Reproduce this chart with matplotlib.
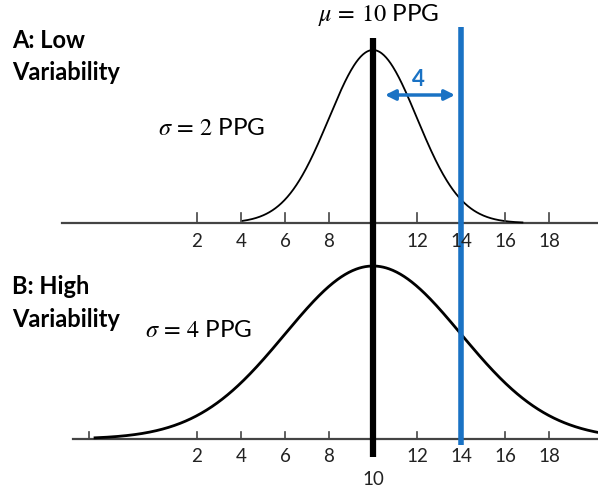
import numpy as np
import matplotlib.pyplot as plt

plt.rcParams['font.family'] = ['Lato', 'DejaVu Sans']
plt.rcParams['mathtext.fontset'] = 'stix'

# data
mu = 10
sigma_low = 2
sigma_high = 4
shift = 4   # blue line sits at mu + shift
ticks_top = [2, 4, 6, 8, 12, 14, 16, 18]
ticks_bottom = [2, 4, 6, 8, 12, 14, 16, 18]
extra_tick_bottom = [-2.9]
blue = '#1a72c4'

# layout (y is in pixel rows, x in PPG)
base_top, peak_top = 223, 50
base_bot, peak_bot = 439, 266
px_per_unit = 22.0
x_at_px0 = mu - 373 / px_per_unit
x_at_pxR = mu + 225 / px_per_unit

fig = plt.figure(figsize=(5.98, 4.90), dpi=100)
ax = fig.add_axes([0, 0, 1, 1])
ax.set_xlim(x_at_px0, x_at_pxR)
ax.set_ylim(490, 0)
ax.axis('off')

def px(v):
    return x_at_px0 + v / px_per_unit

x = np.linspace(x_at_px0, x_at_pxR, 800)

# baselines
ax.plot([px(62), x_at_pxR], [base_top, base_top], color='#444444', lw=1.6)
ax.plot([px(73), x_at_pxR], [base_bot, base_bot], color='#444444', lw=1.6)

# curves
g1 = np.exp(-(x - mu) ** 2 / (2 * sigma_low ** 2))
m1 = (g1 > 0.012) | ((x > mu) & (g1 > 0.003))
ax.plot(x[m1], base_top - g1[m1] * (base_top - peak_top), color='black', lw=1.3)
g2 = np.exp(-(x - mu) ** 2 / (2 * sigma_high ** 2))
m2 = x > px(95)
ax.plot(x[m2], base_bot - g2[m2] * (base_bot - peak_bot), color='black', lw=2.0)

# ticks and labels
for t in ticks_top:
    ax.plot([t, t], [base_top - 10, base_top], color='#444444', lw=1.2)
    ax.text(t, 241, str(t), ha='center', va='center', fontsize=13.5, color='#222222')
for t in ticks_bottom + extra_tick_bottom:
    ax.plot([t, t], [base_bot - 7, base_bot], color='#444444', lw=1.2)
for t in ticks_bottom:
    ax.text(t, 456, str(t), ha='center', va='center', fontsize=13.5, color='#222222')
ax.text(mu, 479, str(mu), ha='center', va='center', fontsize=13.5, color='#222222')

# vertical lines
ax.plot([mu, mu], [38, 457], color='black', lw=4.5, solid_capstyle='butt')
ax.plot([mu + shift, mu + shift], [27, 445], color=blue, lw=4.0, solid_capstyle='butt')

# arrow showing the shift
ax.annotate('', xy=(px(385), 95), xytext=(px(455), 95),
            arrowprops=dict(arrowstyle='<|-|>', color=blue, lw=2.5,
                            mutation_scale=15, shrinkA=0, shrinkB=0))
ax.text(px(418), 79, str(shift), ha='center', va='center', fontsize=16,
        fontweight='bold', color=blue)

# text
ax.text(px(378), 15, r'$\mu\,=\,10$ PPG', ha='center', va='center', fontsize=17.5)
ax.text(px(158), 128, r'$\sigma\,=\,2$ PPG', ha='left', va='center', fontsize=17.5)
ax.text(px(145), 330, r'$\sigma\,=\,4$ PPG', ha='left', va='center', fontsize=17.5)
ax.text(px(12), 41, 'A: Low', ha='left', va='center', fontsize=17, fontweight='bold')
ax.text(px(12), 73, 'Variability', ha='left', va='center', fontsize=17, fontweight='bold')
ax.text(px(12), 286, 'B: High', ha='left', va='center', fontsize=17, fontweight='bold')
ax.text(px(12), 319, 'Variability', ha='left', va='center', fontsize=17, fontweight='bold')

fig.savefig('out.png', dpi=100)
